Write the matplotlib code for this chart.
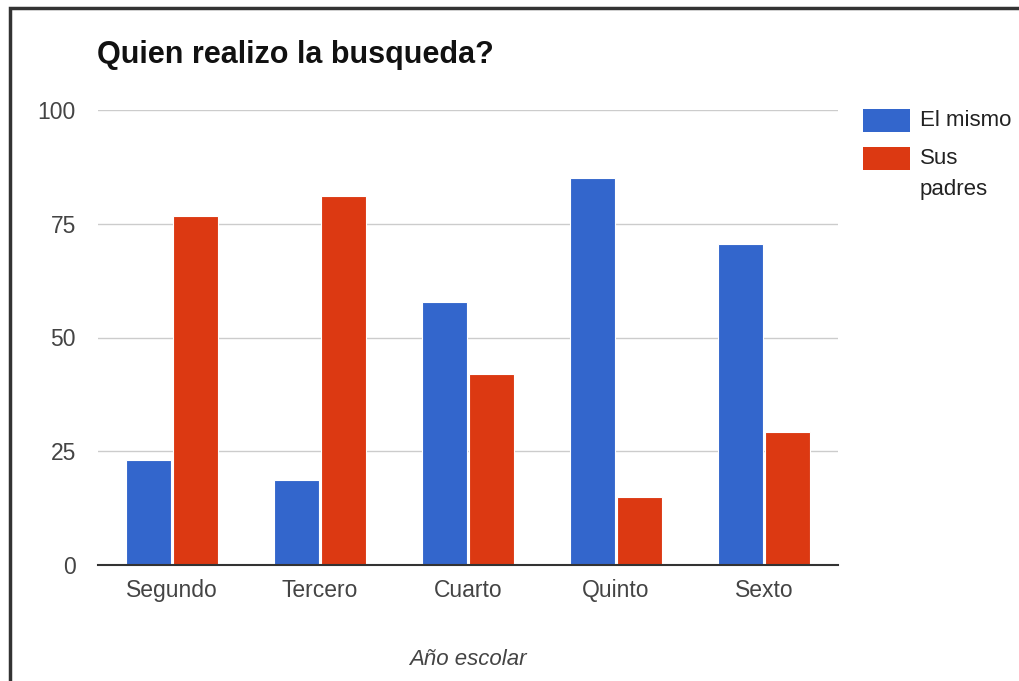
import matplotlib.pyplot as plt
import numpy as np
from matplotlib.patches import Rectangle

plt.rcParams["font.family"] = ["Liberation Sans", "DejaVu Sans"]

grades = ["Segundo", "Tercero", "Cuarto", "Quinto", "Sexto"]
el_mismo = [23, 18.7, 57.8, 85, 70.5]
sus_padres = [76.7, 81.1, 42, 14.9, 29.2]
series_labels = ["El mismo", "Sus\npadres"]
yticks = [0, 25, 50, 75, 100]

blue = "#3366cc"
red = "#dc3912"

fig = plt.figure(figsize=(10.2, 6.81), dpi=100)
ax = fig.add_axes([98 / 1020, 1 - 565 / 681, 740 / 1020, 455 / 681])

x = np.arange(len(grades))
w = 0.3
b1 = ax.bar(x - w / 2 - 0.01, el_mismo, w, color=blue, edgecolor="white", linewidth=0.8, zorder=3)
b2 = ax.bar(x + w / 2 + 0.01, sus_padres, w, color=red, edgecolor="white", linewidth=0.8, zorder=3)

ax.set_xlim(-0.5, len(grades) - 0.5)
ax.set_ylim(0, 100)
ax.set_yticks(yticks)
ax.set_yticklabels([str(t) for t in yticks])
ax.set_xticks(x)
ax.set_xticklabels(grades)
ax.tick_params(length=0, labelsize=16.5, colors="#444444")
ax.tick_params(axis="x", pad=23)
ax.tick_params(axis="y", pad=16)
for lab in ax.get_xticklabels():
    lab.set_va("baseline")
ax.grid(axis="y", color="#cccccc", linewidth=1, zorder=0)
for s in ["top", "right", "left"]:
    ax.spines[s].set_visible(False)
ax.spines["bottom"].set_color("#333333")
ax.spines["bottom"].set_linewidth(1.5)
ax.spines["bottom"].set_zorder(4)

ax.set_xlabel("Año escolar", fontsize=16, style="italic", color="#444444", labelpad=34)
fig.text(97 / 1020, 1 - 55 / 681, "Quien realizo la busqueda?", fontsize=22,
         fontweight="bold", color="#111111", va="center", ha="left")

# legend drawn by hand so the swatch sits on the first line of a wrapped label
for i, (bars, lab) in enumerate([(b1, series_labels[0]), (b2, series_labels[1])]):
    top = 109 + i * 38
    fig.patches.append(Rectangle((863 / 1020, 1 - (top + 23) / 681), 47 / 1020, 23 / 681,
                                 transform=fig.transFigure,
                                 facecolor=bars.patches[0].get_facecolor(), edgecolor="none"))
    fig.text(920 / 1020, 1 - (top + 12) / 681, lab.split("\n")[0], fontsize=16,
             color="#222222", va="center", ha="left")
    for k, extra in enumerate(lab.split("\n")[1:]):
        fig.text(920 / 1020, 1 - (top + 12 + 31 * (k + 1)) / 681, extra, fontsize=16,
                 color="#222222", va="center", ha="left")

fig.patches.append(Rectangle((10 / 1020, -0.02), 1.05, 1 - 8 / 681 + 0.02, transform=fig.transFigure,
                             fill=False, edgecolor="#333333", linewidth=2.5))

fig.savefig("out.png", dpi=100)
